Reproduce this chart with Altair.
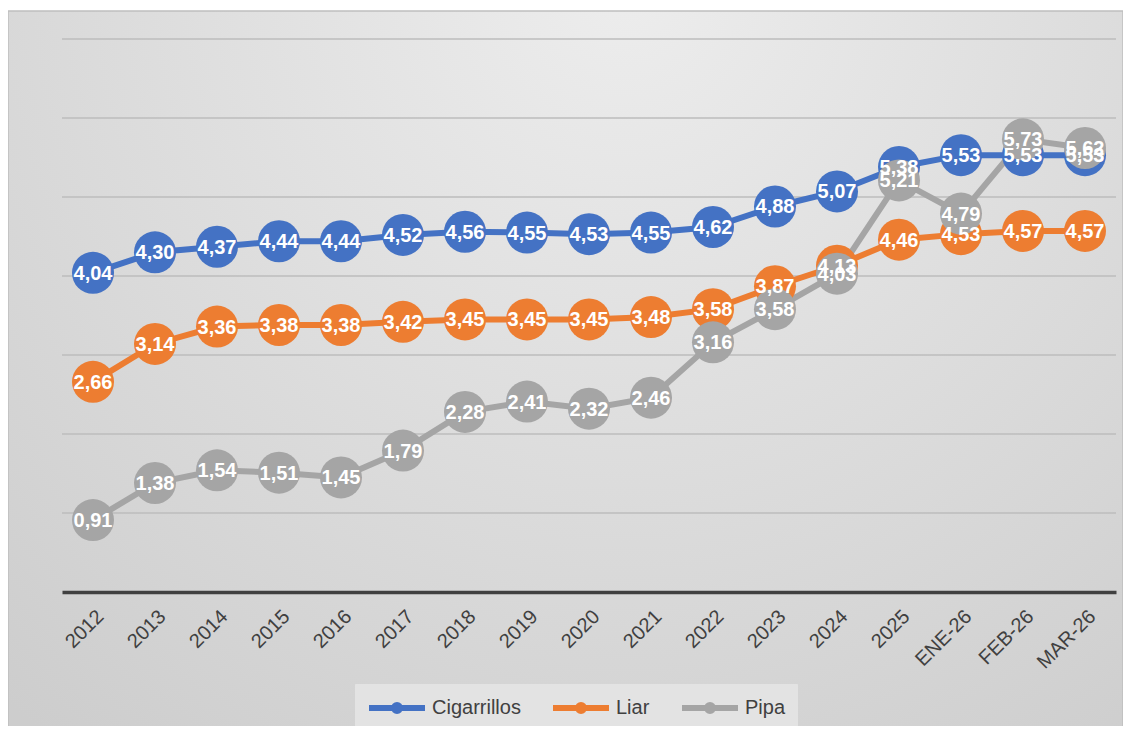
import altair as alt
import pandas as pd

categories = ["2012", "2013", "2014", "2015", "2016", "2017", "2018", "2019",
              "2020", "2021", "2022", "2023", "2024", "2025", "ENE-26", "FEB-26", "MAR-26"]
cigarrillos = [4.04, 4.30, 4.37, 4.44, 4.44, 4.52, 4.56, 4.55, 4.53, 4.55, 4.62,
               4.88, 5.07, 5.38, 5.53, 5.53, 5.53]
liar = [2.66, 3.14, 3.36, 3.38, 3.38, 3.42, 3.45, 3.45, 3.45, 3.48, 3.58,
        3.87, 4.13, 4.46, 4.53, 4.57, 4.57]
pipa = [0.91, 1.38, 1.54, 1.51, 1.45, 1.79, 2.28, 2.41, 2.32, 2.46, 3.16,
        3.58, 4.03, 5.21, 4.79, 5.73, 5.62]
grid_values = [1, 2, 3, 4, 5, 6, 7]

series_names = ["Cigarrillos", "Liar", "Pipa"]
series_colors = ["#4472C4", "#ED7D31", "#A5A5A5"]

rows = []
for name, vals in zip(series_names, [cigarrillos, liar, pipa]):
    for c, v in zip(categories, vals):
        rows.append({"cat": c, "serie": name, "valor": v,
                     "etiqueta": f"{v:.2f}".replace(".", ","),
                     "orden": series_names.index(name)})
df = pd.DataFrame(rows)

W, H = 1054, 553
PAD = {"left": 54, "top": 31, "right": 7, "bottom": 134}

x_enc = alt.X("cat:N", sort=categories,
              scale=alt.Scale(type="point", padding=0.5),
              axis=alt.Axis(title=None, labelAngle=-45, ticks=False,
                            domainColor="#404040", domainWidth=3.5,
                            labelColor="#404040", labelFontSize=20,
                            labelFont="Liberation Sans", labelPadding=14,
                            grid=False, zindex=1))
y_scale = alt.Scale(domain=[0, 7], nice=False)
y_enc = alt.Y("valor:Q", scale=y_scale, axis=None)
color_scale = alt.Scale(domain=series_names, range=series_colors)

bg = alt.Chart(pd.DataFrame({"d": [0]})).mark_rect(
    fill={"gradient": "radial", "x1": 0.55, "y1": 0.15, "r1": 0,
          "x2": 0.55, "y2": 0.15, "r2": 0.85,
          "stops": [{"offset": 0, "color": "#ededed"},
                    {"offset": 1, "color": "#cdcdcd"}]},
    stroke="#bfbfbf", strokeWidth=1.5
).encode(x=alt.value(-54), x2=alt.value(W + 7), y=alt.value(-28), y2=alt.value(H + 140))

grid = alt.Chart(pd.DataFrame({"g": grid_values})).mark_rule(
    color="#bcbcbc", strokeWidth=1.5
).encode(y=alt.Y("g:Q", scale=y_scale, axis=None), x=alt.value(0), x2=alt.value(W))

base = alt.Chart(df)

legend = alt.Legend(title=None, orient="none", legendX=293, legendY=645,
                    direction="horizontal",
                    symbolType="M-2.8,0L2.8,0M-0.3,0A0.3,0.3,0,1,1,0.3,0A0.3,0.3,0,1,1,-0.3,0",
                    symbolSize=400, symbolStrokeWidth=6, symbolOffset=18,
                    labelFontSize=20, labelFont="Liberation Sans", labelColor="#404040",
                    labelOffset=22, columnPadding=20, padding=11,
                    fillColor="#e3e3e3", strokeColor="#e3e3e3")

lines = base.mark_line(strokeWidth=6).encode(
    x=x_enc, y=y_enc,
    color=alt.Color("serie:N", scale=color_scale, sort=series_names, legend=legend),
    order=alt.Order("orden:Q")
)

points = base.mark_circle(size=1764, opacity=1).encode(
    x=x_enc, y=y_enc,
    color=alt.Color("serie:N", scale=color_scale, legend=None),
    order=alt.Order("orden:Q")
)

labels = base.mark_text(font="Liberation Sans", fontSize=20, fontWeight="bold",
                        color="white", baseline="middle", align="center", dy=1).encode(
    x=x_enc, y=y_enc, text="etiqueta:N",
    order=alt.Order("orden:Q")
)

chart = alt.layer(bg, grid, lines, points, labels).properties(
    width=W, height=H,
    padding=PAD,
    autosize=alt.AutoSizeParams(type="none"),
    background="white"
).configure_view(stroke=None)

chart.save("out.html", embed_options={"renderer": "svg", "actions": False})
